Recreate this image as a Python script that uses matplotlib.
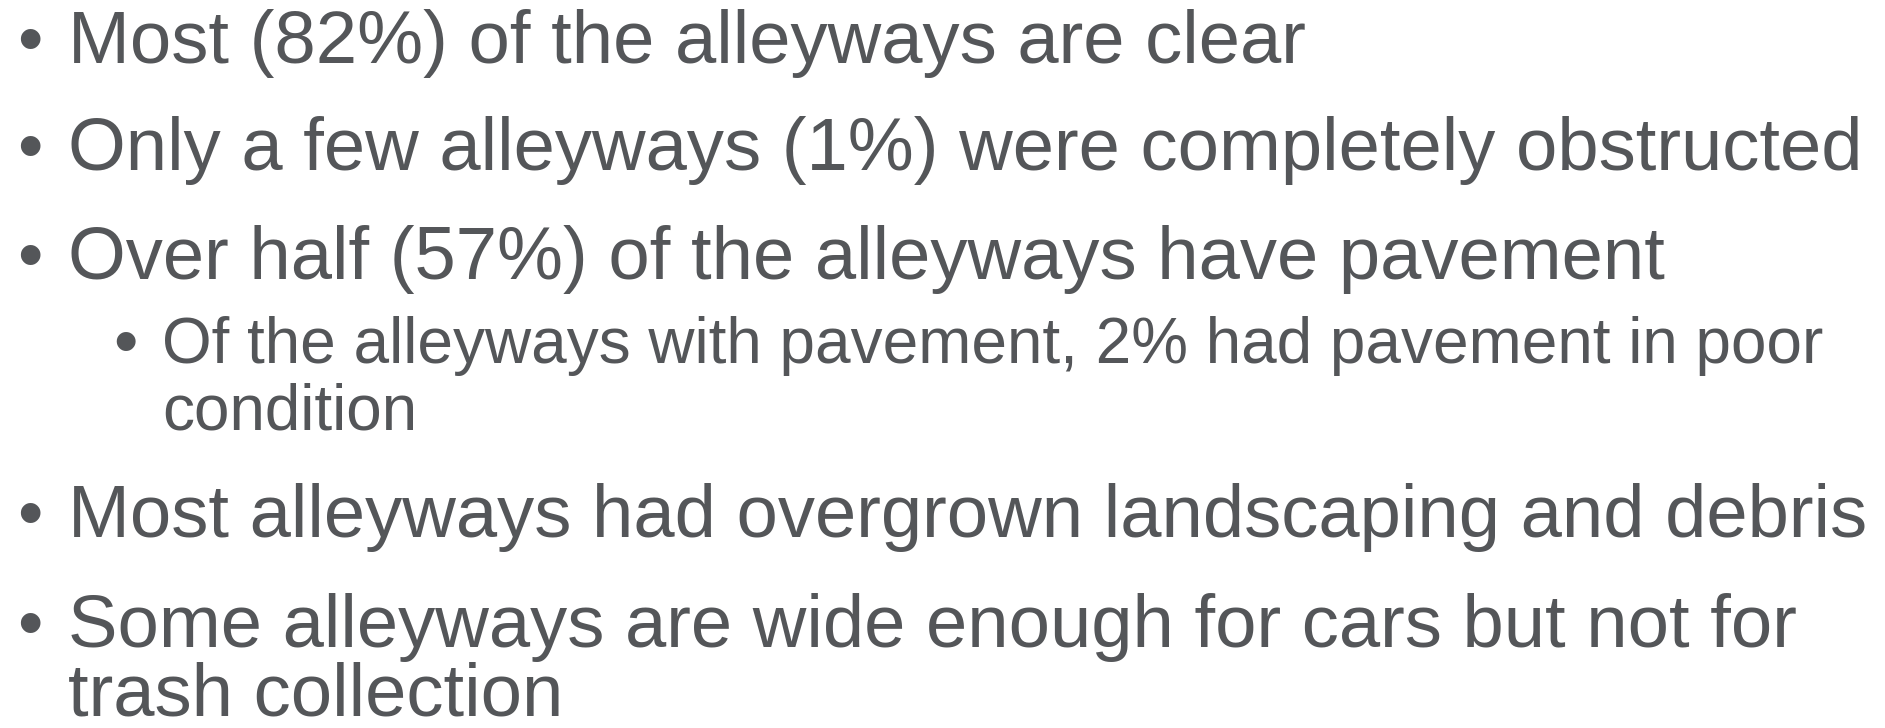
import matplotlib
matplotlib.use("Agg")
import matplotlib.pyplot as plt

W, H = 1885, 728
COLOR = "#545659"
FONT = ["Liberation Sans", "DejaVu Sans"]

# slide content: (level, lines)
items = [
    (1, ["Most (82%) of the alleyways are clear"]),
    (1, ["Only a few alleyways (1%) were completely obstructed"]),
    (1, ["Over half (57%) of the alleyways have pavement"]),
    (2, ["Of the alleyways with pavement, 2% had pavement in poor", "condition"]),
    (1, ["Most alleyways had overgrown landscaping and debris"]),
    (1, ["Some alleyways are wide enough for cars but not for", "trash collection"]),
]
baselines = [[63], [170], [279], [363, 430], [537], [647, 716]]

style = {
    1: dict(size=53.5, text_x=68, bullet_x=30, bullet_size=52, bullet_dy=0),
    2: dict(size=46, text_x=162, bullet_x=125, bullet_size=50, bullet_dy=1),
}

fig = plt.figure(figsize=(W / 100, H / 100), dpi=100)
fig.patch.set_facecolor("white")

def fx(px):
    return px / W

def fy(py):
    return 1 - py / H

for (level, lines), ys in zip(items, baselines):
    st = style[level]
    fig.text(fx(st["bullet_x"]), fy(ys[0] + st["bullet_dy"]), "•",
             fontsize=st["bullet_size"], color=COLOR, family=FONT,
             ha="center", va="baseline")
    for line, y in zip(lines, ys):
        fig.text(fx(st["text_x"]), fy(y), line, fontsize=st["size"],
                 color=COLOR, family=FONT, ha="left", va="baseline")

fig.savefig("out.png", dpi=100, facecolor="white")
